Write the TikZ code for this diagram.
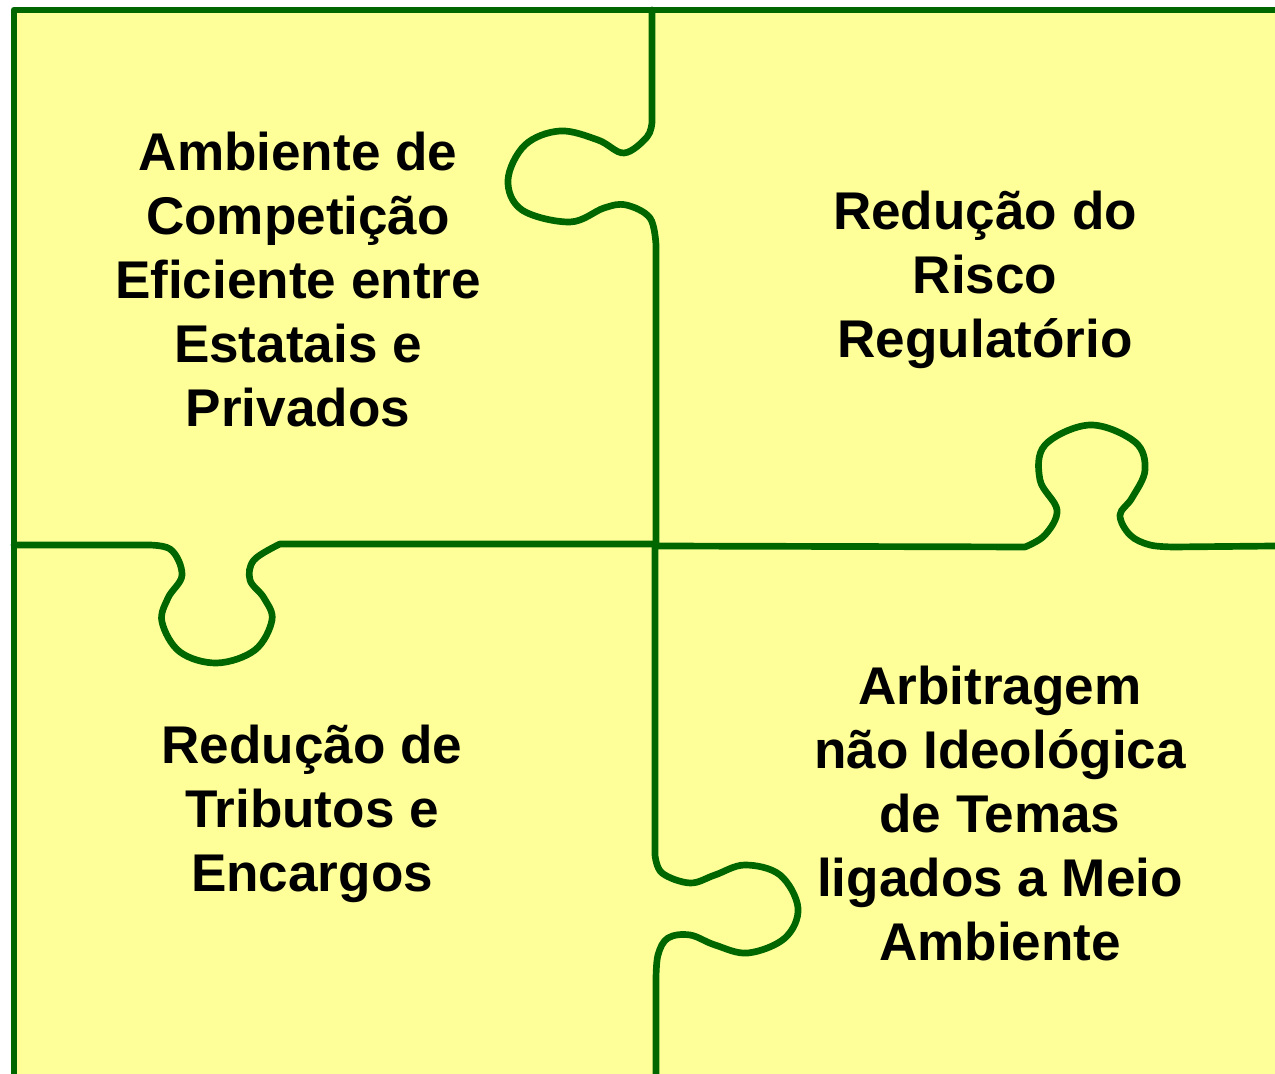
\documentclass[tikz,border=0pt]{standalone}
\usepackage{fontspec}
\setmainfont{Liberation Sans}
\definecolor{piecefill}{HTML}{FFFF99}
\definecolor{pieceline}{HTML}{006600}

\begin{document}
\begin{tikzpicture}[x=0.01cm, y=-0.01cm,
		edge/.style={line width=1.9pt, draw=pieceline, line join=round, line cap=round},
		label/.style={align=center, font=\fontsize{15.1}{18.2}\selectfont\bfseries, inner sep=0pt}]
			\useasboundingbox (0,0) rectangle (1275,1074);
			\fill[piecefill] (14,10) rectangle (1275,1074);
			\draw[edge] (14,1074) -- (14,10) -- (1275,10);
			% knob on the upper seam
			\draw[edge] (652,10) -- (652,122) -- plot[smooth, tension=0.6] coordinates {(652,122) (647,137) (624,153) (598,140) (560,131) (525,145) (508,180) (522,210) (570,222) (604,208) (626,205) (650,218) (656,245)} -- (656,545);
			% knob on the left seam
			\draw[edge] (14,545) -- (140,545) -- plot[smooth, tension=0.6] coordinates {(140,545) (170,549) (182,575) (168,598) (162,622) (180,652) (217,663) (255,650) (272,620) (264,598) (250,580) (254,560) (280,544)} -- (655,544);
			% knob on the right seam
			\draw[edge] (655,546) -- (1025,547) -- plot[smooth, tension=0.6] coordinates {(1025,547) (1045,535) (1057,510) (1040,480) (1045,445) (1090,425) (1135,442) (1145,470) (1132,498) (1120,515) (1130,535) (1150,545) (1175,547)} -- (1275,546);
			% knob on the lower seam
			\draw[edge] (655,545) -- (655,855) -- plot[smooth, tension=0.6] coordinates {(655,855) (662,873) (690,883) (715,875) (745,865) (780,875) (798,908) (785,938) (748,953) (715,945) (690,935) (668,938) (658,955) (656,980)} -- (656,1074);
			\node[label] (competicao) at (298,280) {Ambiente de\\Competição\\Eficiente entre\\Estatais e\\Privados};
			\node[label] (risco) at (985,280) {Redução do\\Risco\\Regulatório};
			\node[label] (tributos) at (312,814) {Redução de\\Tributos e\\Encargos};
			\node[label] (arbitragem) at (1000,814) {Arbitragem\\não Ideológica\\de Temas\\ligados a Meio\\Ambiente};
		\end{tikzpicture}
\end{document}
